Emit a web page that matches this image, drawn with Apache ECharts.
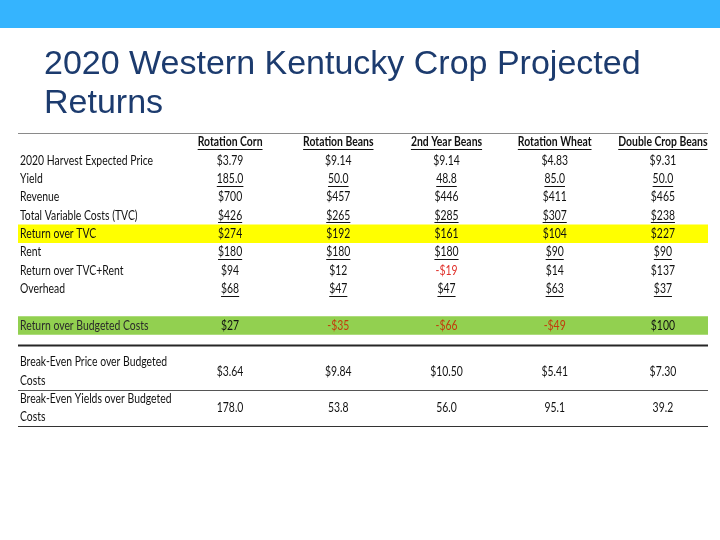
<!DOCTYPE html>
<html><head><meta charset="utf-8">
<script src="https://cdn.jsdelivr.net/npm/echarts@6/dist/echarts.min.js"></script>
<style>html,body{margin:0;padding:0;background:#fff}#c{width:720px;height:540px}</style>
</head><body><div id="c"></div>
<script>
// ---- data ----
const titleText = '2020 Western Kentucky Crop Projected\nReturns';
const crops = ['Rotation Corn', 'Rotation Beans', '2nd Year Beans', 'Rotation Wheat', 'Double Crop Beans'];
const rowLabels = [
  '2020 Harvest Expected Price', 'Yield', 'Revenue', 'Total Variable Costs (TVC)',
  'Return over TVC', 'Rent', 'Return over TVC+Rent', 'Overhead',
  'Return over Budgeted Costs', 'Break-Even Price over Budgeted\nCosts',
  'Break-Even Yields over Budgeted\nCosts'
];
const rotationCorn    = [3.79, 185.0, 700, 426, 274, 180, 94, 68, 27, 3.64, 178.0];
const rotationBeans   = [9.14, 50.0, 457, 265, 192, 180, 12, 47, -35, 9.84, 53.8];
const secondYearBeans = [9.14, 48.8, 446, 285, 161, 180, -19, 47, -66, 10.50, 56.0];
const rotationWheat   = [4.83, 85.0, 411, 307, 104, 90, 14, 63, -49, 5.41, 95.1];
const doubleCropBeans = [9.31, 50.0, 465, 238, 227, 90, 137, 37, 100, 7.30, 39.2];
const rowFormats = ['price', 'yield', 'dollar', 'dollar', 'dollar', 'dollar', 'dollar', 'dollar', 'dollar', 'price', 'yield'];

// ---- layout / style ----
const columns = [rotationCorn, rotationBeans, secondYearBeans, rotationWheat, doubleCropBeans];
const rowSlot = [1.5, 2.5, 3.5, 4.5, 5.5, 6.5, 7.5, 8.5, 10.5, 13, 15];
const underlinedRows = [1, 3, 5, 7];
const negColors = {6: '#e0302a', 8: '#c23a0c'};
const bands = [[5, '#ffff00'], [10, '#92d050']];
const rules = [[0, '#8a8a8a', 1], [11.55, '#262626', 2], [14, '#555555', 1], [16, '#333333', 1]];
const TABLE_LEFT = 18, TABLE_RIGHT = 708;
const FONT = 'Lato, sans-serif';
const FS = 13;
const SX = 0.8; // horizontal condense to mimic a narrow font

const mctx = document.createElement('canvas').getContext('2d');
function textWidth(t, weight) {
  mctx.font = (weight || 'normal') + ' ' + FS + 'px ' + FONT;
  return mctx.measureText(t).width * SX;
}
function fmt(v, kind) {
  if (kind === 'price') return '$' + v.toFixed(2);
  if (kind === 'yield') return v.toFixed(1);
  return (v < 0 ? '-$' : '$') + Math.abs(v).toFixed(0);
}

const valueData = [];
columns.forEach((col, ci) => col.forEach((v, ri) => valueData.push([ci, rowSlot[ri], ri, v])));
const headerData = crops.map((c, i) => [i, 0.5]);
const labelData = rowLabels.map((l, i) => [0, rowSlot[i], i]);

function textEl(x, y, text, fill, weight, align, underline) {
  const children = [{
    type: 'text', x: x, y: y, scaleX: SX,
    style: {text: text, fill: fill, font: (weight || 'normal') + ' ' + FS + 'px ' + FONT,
      align: align || 'center', verticalAlign: 'middle', lineHeight: 18.35}
  }];
  if (underline) {
    const w = textWidth(text, weight);
    const x0 = align === 'left' ? x : x - w / 2;
    const uy = Math.round(y + 7) + 0.5;
    children.push({type: 'line', shape: {x1: x0, y1: uy, x2: x0 + w, y2: uy},
      style: {stroke: fill, lineWidth: 1}});
  }
  return {type: 'group', children: children};
}

const chart = echarts.init(document.getElementById('c'), null, {renderer: 'canvas'});
chart.setOption({
  animation: false,
  backgroundColor: '#ffffff',
  title: {
    text: titleText, left: 39, top: 40,
    textStyle: {fontFamily: '"Liberation Sans", Arial, sans-serif', fontWeight: 'normal', fontSize: 34, lineHeight: 39, color: '#1c3b6e'}
  },
  graphic: [{type: 'rect', left: 0, top: 0, shape: {width: 720, height: 28}, style: {fill: '#35b4fe'}, silent: true}],
  grid: {left: 176, width: 541, top: 132.8, height: 293.6},
  xAxis: {type: 'category', data: crops, show: false},
  yAxis: {type: 'value', min: 0, max: 16, inverse: true, show: false},
  series: [
    {
      type: 'custom', name: 'bands', silent: true, z: 1,
      data: bands.map(b => [0, b[0]]),
      renderItem: (params, api) => {
        const y0 = api.coord([0, api.value(1)])[1];
        const y1 = api.coord([0, api.value(1) + 1])[1];
        return {type: 'rect', shape: {x: TABLE_LEFT, y: y0, width: TABLE_RIGHT - TABLE_LEFT, height: y1 - y0},
          style: {fill: bands[params.dataIndex][1]}};
      }
    },
    {
      type: 'custom', name: 'rules', silent: true, z: 2,
      data: rules.map(r => [0, r[0]]),
      renderItem: (params, api) => {
        const y = Math.round(api.coord([0, api.value(1)])[1]) + 0.5;
        const r = rules[params.dataIndex];
        return {type: 'line', shape: {x1: TABLE_LEFT, y1: y, x2: TABLE_RIGHT, y2: y},
          style: {stroke: r[1], lineWidth: r[2]}};
      }
    },
    {
      type: 'custom', name: 'headers', silent: true, z: 3,
      data: headerData,
      renderItem: (params, api) => {
        const p = api.coord([api.value(0), api.value(1)]);
        return textEl(p[0], p[1], crops[params.dataIndex], '#111111', 'bold', 'center', true);
      }
    },
    {
      type: 'custom', name: 'labels', silent: true, z: 3,
      data: labelData,
      renderItem: (params, api) => {
        const p = api.coord([0, api.value(1)]);
        const ri = params.dataIndex;
        return textEl(TABLE_LEFT + 2, p[1], rowLabels[ri], ri === 8 ? '#2a2a2a' : '#111111', 'normal', 'left', false);
      }
    },
    {
      type: 'custom', name: 'values', silent: true, z: 3,
      data: valueData,
      renderItem: (params, api) => {
        const p = api.coord([api.value(0), api.value(1)]);
        const ri = api.value(2), v = api.value(3);
        const color = (v < 0 && negColors[ri]) ? negColors[ri] : '#111111';
        return textEl(p[0], p[1], fmt(v, rowFormats[ri]), color, 'normal', 'center', underlinedRows.indexOf(ri) >= 0);
      }
    }
  ]
});
</script>
</body></html>
